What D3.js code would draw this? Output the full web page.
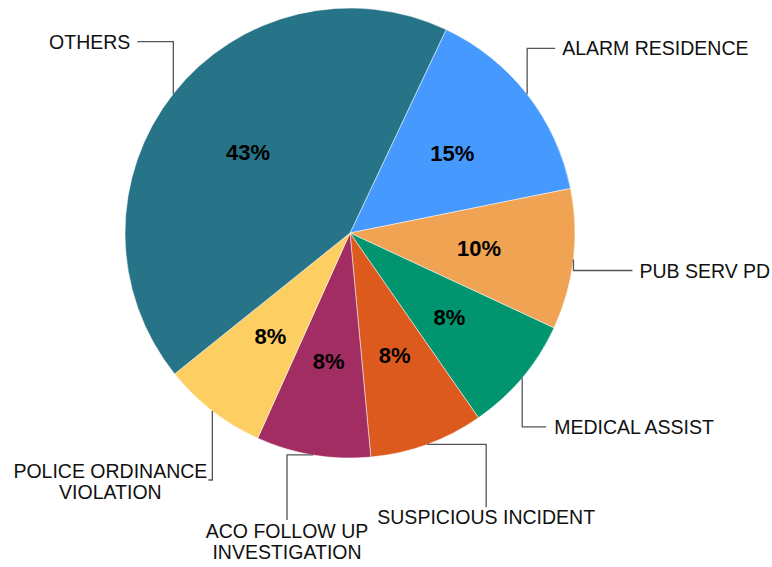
<!DOCTYPE html>
<html><head><meta charset="utf-8">
<script src="https://cdn.jsdelivr.net/npm/d3@7"></script>
<style>body{margin:0;background:#fff}svg{display:block}</style>
</head><body>
<svg id="c" width="772" height="567"></svg>
<script>
const categories = ["ALARM RESIDENCE","PUB SERV PD","MEDICAL ASSIST","SUSPICIOUS INCIDENT","ACO FOLLOW UP INVESTIGATION","POLICE ORDINANCE VIOLATION","OTHERS"];
const values = [14.8, 10.1, 8.4, 8.2, 8.2, 7.5, 42.8];
const percentLabels = ["15%","10%","8%","8%","8%","8%","43%"];
const colors = ["#4599ff","#f0a453","#00946f","#dd5a1e","#a12d62","#fdce62","#277488"];
const labelLines = [["ALARM RESIDENCE"],["PUB SERV PD"],["MEDICAL ASSIST"],["SUSPICIOUS INCIDENT"],["ACO FOLLOW UP","INVESTIGATION"],["POLICE ORDINANCE","VIOLATION"],["OTHERS"]];

const svg = d3.select("#c");
const cx = 350, cy = 233, R = 225;
const g = svg.append("g").attr("transform", `translate(${cx},${cy})`);
const start = 25.3 * Math.PI / 180;
const pie = d3.pie().sort(null).value(d => d).startAngle(start).endAngle(start + 2 * Math.PI);
const arcs = pie(values);
const arc = d3.arc().innerRadius(0).outerRadius(R);

g.selectAll("path.s").data(arcs).join("path")
  .attr("d", arc).attr("fill", (d, i) => colors[i])
  .attr("stroke", "#fff").attr("stroke-width", 0.5);

const labR = 130;
g.selectAll("text.p").data(arcs).join("text")
  .attr("x", d => labR * Math.sin((d.startAngle + d.endAngle) / 2))
  .attr("y", d => -labR * Math.cos((d.startAngle + d.endAngle) / 2))
  .attr("text-anchor", "middle").attr("dy", "0.36em")
  .attr("font-family", "Liberation Sans, Arial, sans-serif")
  .attr("font-weight", "bold").attr("font-size", 22).attr("fill", "#000")
  .text((d, i) => percentLabels[i]);

// leader layouts: first leg v (vertical) or h (horizontal), lengths relative to anchor
const layout = [
  {first:"v", l1:-46, l2:28, anchor:"start", gap:7},
  {first:"v", l1:11, l2:59, anchor:"start", gap:7},
  {first:"v", l1:49, l2:24, anchor:"start", gap:8},
  {first:"h", l1:59, l2:63, anchor:"middle", gap:3},
  {first:"h", l1:-26, l2:65, anchor:"middle", gap:4},
  {first:"v", l1:69, l2:-4, anchor:"end", gap:1},
  {first:"v", l1:-52, l2:-36, anchor:"end", gap:7}
];
const font = "Liberation Sans, Arial, sans-serif";
const fs = 19.5;
arcs.forEach((d, i) => {
  const a = (d.startAngle + d.endAngle) / 2;
  const x0 = cx + R * Math.sin(a), y0 = cy - R * Math.cos(a);
  const L = layout[i];
  let x1, y1, x2, y2;
  if (L.first === "v") { x1 = x0; y1 = y0 + L.l1; x2 = x1 + L.l2; y2 = y1; }
  else { x1 = x0 + L.l1; y1 = y0; x2 = x1; y2 = y1 + L.l2; }
  svg.append("path").attr("d", `M${x0},${y0}L${x1},${y1}L${x2},${y2}`)
    .attr("fill", "none").attr("stroke", "#555").attr("stroke-width", 1.3);
  const lines = labelLines[i];
  const t = svg.append("text").attr("font-family", font).attr("font-size", fs).attr("fill", "#111");
  if (L.first === "v" && L.anchor !== "end" || (L.anchor === "end" && lines.length === 1)) {
    const tx = x2 + (L.l2 >= 0 ? L.gap : -L.gap);
    t.attr("text-anchor", L.anchor).attr("x", tx).attr("y", y2).attr("dy", "0.36em").text(lines[0]);
  } else if (L.first === "h") {
    lines.forEach((s, k) => t.append("tspan").attr("x", x2).attr("y", y2 + L.gap + 14 + k * 21).attr("text-anchor", "middle").text(s));
  } else {
    const tmp = svg.append("text").attr("font-family", font).attr("font-size", fs).text(lines[0]);
    const w = tmp.node().getComputedTextLength(); tmp.remove();
    const right = x2 - L.gap;
    const mid = right - w / 2;
    lines.forEach((s, k) => t.append("tspan").attr("x", mid).attr("y", y2 - 2 + k * 21).attr("text-anchor", "middle").text(s));
  }
});
</script>
</body></html>
